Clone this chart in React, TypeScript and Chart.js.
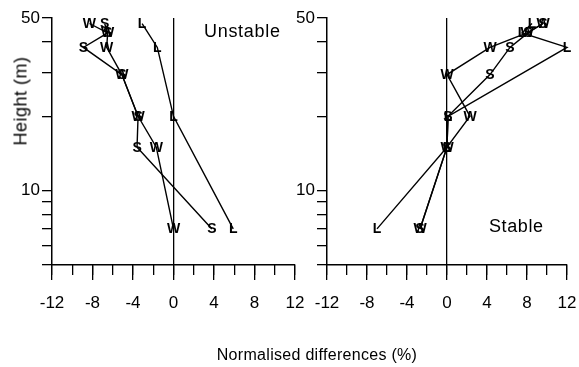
import React, { useEffect, useRef } from "react";
import { Chart, registerables } from "chart.js";
Chart.register(...registerables);

// ---- data ----
const heights = [47.5, 43.5, 38, 29.5, 20, 15, 7];

const unstableW = [-8.3, -6.5, -6.6, -5.1, -3.5, -1.7, 0];
const unstableS = [-6.8, -6.5, -8.9, -5.1, -3.5, -3.6, 3.8];
const unstableL = [-3.1, null, -1.6, null, 0, null, 5.9];

const stableW = [9.6, 8.0, 4.3, 0, 2.3, 0, -2.7];
const stableS = [9.6, 8.1, 6.3, 4.3, 0.1, 0, -2.7];
const stableL = [8.5, 7.5, 12.0, null, 0.1, 0, -7.0];

const xMajorTicks = [-12, -8, -4, 0, 4, 8, 12];
const xMinorTicks = [-12, -10, -8, -6, -4, -2, 0, 2, 4, 6, 8, 10, 12];
const yTicks = [5, 6, 7, 8, 9, 10, 20, 30, 40, 50];
const yLabelled = [10, 50];

const FONT = "'Liberation Sans', Arial, Helvetica, sans-serif";

function toPoints(xs: (number | null)[]) {
  return heights
    .map((h, i) => ({ x: xs[i], y: h }))
    .filter((p) => p.x !== null && p.x !== undefined);
}

const letterPlugin = {
  id: "letters",
  afterDatasetsDraw(chart: any) {
    const ctx = chart.ctx;
    ctx.save();
    ctx.font = `bold 14px ${FONT}`;
    ctx.textAlign = "center";
    ctx.textBaseline = "middle";
    ctx.fillStyle = "#000";
    chart.data.datasets.forEach((ds: any, i: number) => {
      const meta = chart.getDatasetMeta(i);
      meta.data.forEach((el: any) => {
        ctx.fillText(ds.label, el.x, el.y + 0.5);
      });
    });
    ctx.restore();
  },
};

function ds(label: string, xs: (number | null)[]) {
  return {
    label,
    data: toPoints(xs),
    showLine: true,
    borderColor: "#000",
    borderWidth: 1.4,
    pointRadius: 0,
    pointHoverRadius: 0,
    clip: false,
  };
}

function makeConfig(datasets: any[], yAxisWidth: number, padRight: number): any {
  return {
    type: "scatter",
    data: { datasets },
    plugins: [letterPlugin],
    options: {
      animation: false,
      responsive: false,
      maintainAspectRatio: false,
      events: [],
      layout: { padding: { top: 18, right: padRight, left: 0, bottom: 0 } },
      plugins: { legend: { display: false }, tooltip: { enabled: false } },
      scales: {
        x: {
          type: "linear",
          min: -12,
          max: 12,
          position: "bottom",
          weight: 1,
          afterBuildTicks: (s: any) => {
            s.ticks = xMajorTicks.map((v) => ({ value: v }));
          },
          afterFit: (s: any) => {
            s.height = 102;
            s.paddingLeft = 0;
            s.paddingRight = 0;
          },
          ticks: {
            color: "#000",
            font: { family: FONT, size: 17 },
            padding: 13,
            autoSkip: false,
            maxRotation: 0,
          },
          grid: {
            drawOnChartArea: true,
            color: (c: any) => (c.tick && c.tick.value === 0 ? "#000" : "rgba(0,0,0,0)"),
            tickColor: "#000",
            tickLength: 15,
            lineWidth: 1.3,
          },
          border: { display: true, color: "#000", width: 1.5 },
        },
        x2: {
          type: "linear",
          min: -12,
          max: 12,
          position: "bottom",
          weight: 0,
          afterBuildTicks: (s: any) => {
            s.ticks = xMinorTicks.map((v) => ({ value: v }));
          },
          afterFit: (s: any) => {
            s.height = 0;
            s.paddingLeft = 0;
            s.paddingRight = 0;
          },
          ticks: { display: false },
          grid: {
            drawOnChartArea: false,
            color: "#000",
            tickColor: "#000",
            tickLength: 10,
            lineWidth: 1.3,
          },
          border: { display: false },
        },
        y: {
          type: "logarithmic",
          min: 5,
          max: 50,
          position: "left",
          afterBuildTicks: (s: any) => {
            s.ticks = yTicks.map((v) => ({ value: v }));
          },
          afterFit: (s: any) => {
            s.width = yAxisWidth;
          },
          ticks: {
            color: "#000",
            font: { family: FONT, size: 17 },
            padding: 2,
            autoSkip: false,
            callback: (v: any) => (yLabelled.includes(Number(v)) ? String(v) : ""),
          },
          grid: {
            drawOnChartArea: false,
            color: "#000",
            tickColor: "#000",
            tickLength: 10,
            lineWidth: 1.3,
          },
          border: { display: true, color: "#000", width: 1.5 },
        },
      },
    },
  };
}

function Panel(props: { left: number; width: number; datasets: any[]; yAxisWidth: number; padRight: number }) {
  const ref = useRef<HTMLCanvasElement | null>(null);
  useEffect(() => {
    if (!ref.current) return;
    const chart = new Chart(ref.current, makeConfig(props.datasets, props.yAxisWidth, props.padRight));
    return () => chart.destroy();
  }, []);
  return (
    <canvas
      ref={ref}
      width={props.width}
      height={367}
      style={{ position: "absolute", left: props.left, top: 0, width: props.width, height: 367 }}
    />
  );
}

export default function App() {
  const unstable = [ds("W", unstableW), ds("S", unstableS), ds("L", unstableL)];
  const stable = [ds("W", stableW), ds("S", stableS), ds("L", stableL)];
  const textBase: any = { position: "absolute", fontFamily: FONT, color: "#000", whiteSpace: "nowrap" };
  return (
    <div style={{ position: "absolute", left: 0, top: 0, width: 579, height: 367, background: "#fff", overflow: "hidden" }}>
      <Panel left={0} width={310} datasets={unstable} yAxisWidth={52} padRight={15} />
      <Panel left={290} width={289} datasets={stable} yAxisWidth={37} padRight={12} />
      <div
        style={{
          ...textBase,
          left: 21,
          top: 101,
          fontSize: 18,
          letterSpacing: "0.5px",
          transform: "translate(-50%, -50%) rotate(-90deg)",
        }}
      >
        Height (m)
      </div>
      <div style={{ ...textBase, left: 317, top: 355, fontSize: 16, letterSpacing: "0.3px", transform: "translate(-50%, -50%)" }}>
        Normalised differences (%)
      </div>
      <div style={{ ...textBase, left: 204, top: 31, fontSize: 18, letterSpacing: "0.7px", transform: "translate(0, -50%)" }}>
        Unstable
      </div>
      <div style={{ ...textBase, left: 489, top: 226, fontSize: 18, letterSpacing: "0.6px", transform: "translate(0, -50%)" }}>
        Stable
      </div>
    </div>
  );
}
